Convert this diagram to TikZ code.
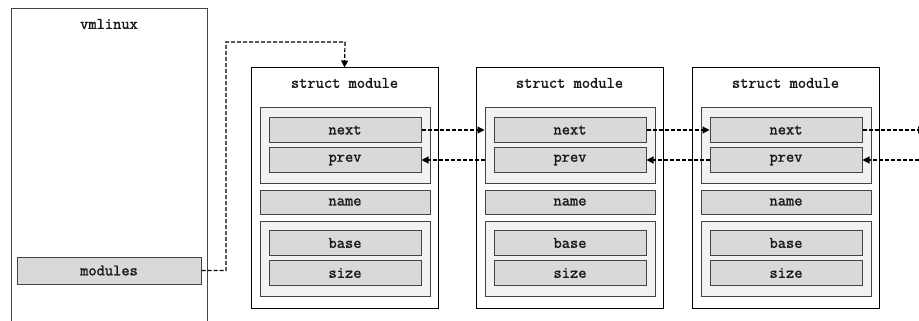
\documentclass[tikz,border=0pt]{standalone}
\usepackage{fontspec}
\newfontfamily\codefont[FakeBold=1.6]{Latin Modern Mono}
\usetikzlibrary{arrows.meta}
\definecolor{fieldfill}{HTML}{D9D9D9}
\definecolor{groupfill}{HTML}{F2F2F2}
\definecolor{edgegray}{HTML}{444444}
\tikzset{
  lbl/.style={font=\fontsize{16}{18}\selectfont\codefont, text=black!90},
  outerbox/.style={draw=black, line width=1pt, fill=white},
  groupbox/.style={draw=edgegray, line width=1pt, fill=groupfill},
  fieldbox/.style={draw=edgegray, line width=1pt, fill=fieldfill, inner sep=0pt, lbl},
  link/.style={dashed, dash pattern=on 4pt off 2pt, line width=1.2pt, -{Triangle[length=7pt,width=7pt]}},
}
\begin{document}
\begin{tikzpicture}[x=1pt,y=-1pt]
\useasboundingbox (0,0) rectangle (919,321);
\clip (0,0) rectangle (919,321);
% vmlinux
\draw[draw=edgegray, line width=1pt, fill=white] (11,9) rectangle (207,340);
\node[lbl] (vmt) at (109,24) {vmlinux};
\node[fieldbox, minimum width=184pt, minimum height=27pt] (modules) at (109,270.5) {modules};
% struct modules
\foreach \i/\x in {1/251,2/476,3/692}{
  \node[outerbox, minimum width=187pt, minimum height=240pt, inner sep=0pt] (s\i) at (\x+93.5,188) {};
  \node[lbl] (t\i) at (\x+93.5,83) {struct module};
  \node[groupbox, minimum width=170pt, minimum height=75pt, inner sep=0pt] (ga\i) at (\x+94,145.5) {};
  \node[fieldbox, minimum width=152pt, minimum height=24.5pt] (next\i) at (\x+94,130) {next};
  \node[fieldbox, minimum width=152pt, minimum height=24.5pt] (prev\i) at (\x+94,160) {prev};
  \node[fieldbox, minimum width=170pt, minimum height=24pt] (name\i) at (\x+94,202) {name};
  \node[groupbox, minimum width=170pt, minimum height=75pt, inner sep=0pt] (gb\i) at (\x+94,258.5) {};
  \node[fieldbox, minimum width=152pt, minimum height=24.5pt] (base\i) at (\x+94,243) {base};
  \node[fieldbox, minimum width=152pt, minimum height=24.5pt] (size\i) at (\x+94,273) {size};
}
\coordinate (nextout) at (925,130);
\coordinate (previn) at (919,160);
\coordinate (bendA) at (226,270.5);
\coordinate (bendB) at (345,42);
% connectors
\draw[link] (modules.east) -- (bendA) |- (bendB) -- (s1.north);
\draw[link] (next1.east) -- (ga2.west |- next1.east);
\draw[link] (ga2.west |- prev1.east) -- (prev1.east);
\draw[link] (next2.east) -- (next3.west);
\draw[link] (prev3.west) -- (prev2.east);
\draw[link] (next3.east) -- (nextout);
\draw[link] (previn) -- (prev3.east);
\end{tikzpicture}
\end{document}
